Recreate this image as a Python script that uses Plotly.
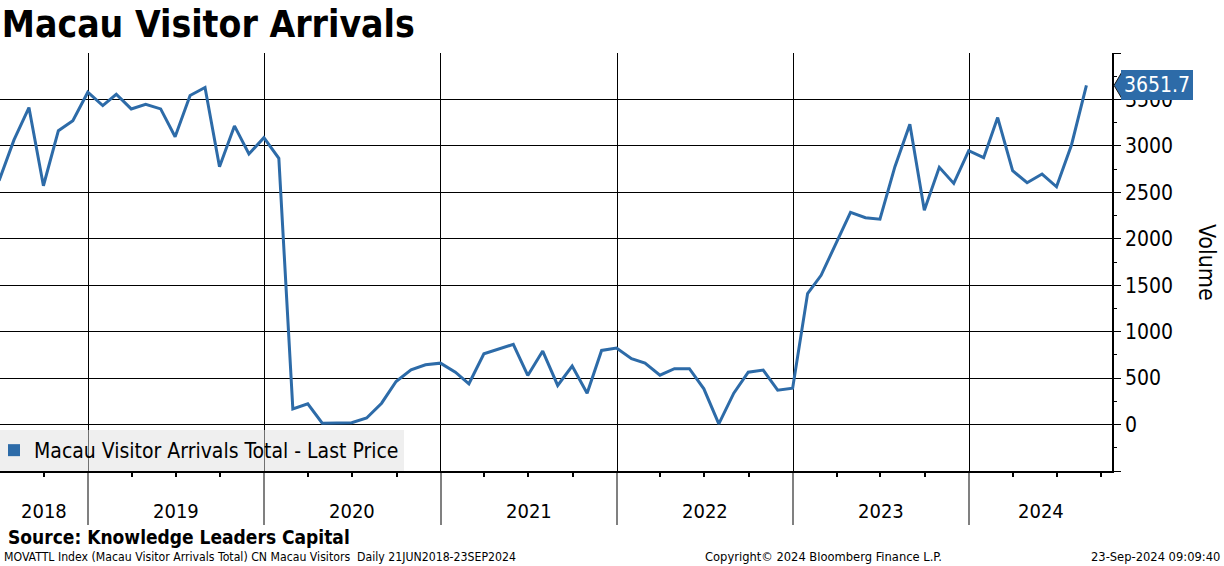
import pandas as pd
import plotly.graph_objects as go

# ---- data (monthly, thousands of visitors) ----
values_2018 = [2625, 3064, 3413, 2571, 3164, 3272, 3578]            # Jun-Dec 2018
values_2019 = [3434, 3556, 3398, 3448, 3398, 3099, 3542, 3628, 2776, 3215, 2913, 3089]
values_2020 = [2866, 169, 223, 14, 14, 20, 70, 230, 464, 590, 644, 661]
values_2021 = [564, 439, 762, 813, 863, 529, 791, 421, 629, 338, 798, 823]
values_2022 = [709, 661, 532, 601, 601, 385, 7, 338, 564, 586, 370, 392]
values_2023 = [1410, 1607, 1960, 2284, 2226, 2211, 2776, 3233, 2308, 2769, 2596, 2948]
values_2024 = [2873, 3305, 2733, 2603, 2697, 2560, 3010, 3651.7]     # Jan-Aug 2024
values = values_2018 + values_2019 + values_2020 + values_2021 + values_2022 + values_2023 + values_2024
first_month = "2018-07-01"   # month-end dates: first is 30-Jun-2018
year_labels = ["2018", "2019", "2020", "2021", "2022", "2023", "2024"]
year_label_dates = ["2018-10-01", "2019-07-02", "2020-07-01", "2021-07-02", "2022-07-02", "2023-07-02", "2024-05-28"]
year_starts = ["2019-01-01", "2020-01-01", "2021-01-01", "2022-01-01", "2023-01-01", "2024-01-01"]
y_ticks = [-500, 0, 500, 1000, 1500, 2000, 2500, 3000, 3500, 4000]
y_ticktext = ["", "0", "500", "1000", "1500", "2000", "2500", "3000", "3500", ""]

dates = pd.date_range(first_month, periods=len(values), freq="MS") - pd.Timedelta(days=1)

BLUE = "#2d6ba8"
FONT = "DejaVu Sans Condensed, DejaVu Sans, sans-serif"

fig = go.Figure()
fig.add_trace(go.Scatter(x=dates, y=values, mode="lines",
                         line=dict(color=BLUE, width=3), showlegend=False))
fig.add_trace(go.Scatter(x=[None], y=[None], mode="markers",
                         marker=dict(symbol="square", size=12, color=BLUE),
                         name="Macau Visitor Arrivals Total - Last Price"))

fig.update_layout(
    width=1224, height=566,
    margin=dict(l=0, r=112, t=53, b=95, autoexpand=False),
    paper_bgcolor="white", plot_bgcolor="white",
    font=dict(family=FONT, color="black"),
    title=dict(text="<b>Macau Visitor Arrivals</b>", x=0.0015, xanchor="left",
               y=1 - 24 / 566, yanchor="middle", yref="container",
               font=dict(size=37, family=FONT, color="black")),
    xaxis=dict(type="date", range=["2018-07-02", "2024-10-23"],
               tickmode="array", tickvals=year_starts, showticklabels=False,
               ticks="outside", ticklen=52, tickcolor="#808080", tickwidth=1.5,
               showgrid=True, gridcolor="black", gridwidth=1.3,
               showline=True, linecolor="black", linewidth=2,
               minor=dict(tickmode="linear", tick0="2018-01-01", dtick="M3",
                          ticks="outside", ticklen=4, tickcolor="black", showgrid=False),
               zeroline=False, fixedrange=True),
    yaxis=dict(side="right", range=[-500, 4000], tickmode="array",
               tickvals=y_ticks, ticktext=y_ticktext,
               ticks="outside", ticklen=7, tickcolor="black",
               tickfont=dict(size=21, family=FONT),
               showgrid=True, gridcolor="black", gridwidth=1.3,
               showline=True, linecolor="black", linewidth=1.5,
               minor=dict(tickmode="linear", tick0=-250, dtick=500, ticks="outside",
                          ticklen=3, tickcolor="black", showgrid=False),
               zeroline=False, fixedrange=True),
    legend=dict(x=-0.0054, y=0, xanchor="left", yanchor="bottom",
                bgcolor="rgba(224,224,224,0.5)", borderwidth=0,
                font=dict(size=21, family=FONT), itemwidth=30),
)

# last-value pointer notch (pixel-sized shape anchored at the axis and the last value)
fig.add_shape(type="path", xref="paper", yref="y", xsizemode="pixel", ysizemode="pixel",
              xanchor=1, yanchor=values[-1],
              path="M 2 0 L 10 -13.5 L 10 13.5 Z",
              fillcolor=BLUE, line=dict(color="#1a1a1a", width=1), layer="above")

for lab, d in zip(year_labels, year_label_dates):
    fig.add_annotation(x=d, y=-0.096, xref="x", yref="paper", text=lab,
                       showarrow=False, font=dict(size=20, family=FONT),
                       xanchor="center", yanchor="middle")

fig.add_annotation(x=1, xref="paper", xanchor="left", xshift=9, y=values[-1], yref="y",
                   text="%.1f" % values[-1], showarrow=False, yanchor="middle",
                   bgcolor=BLUE, bordercolor=BLUE, borderwidth=1, borderpad=2,
                   font=dict(size=21, color="white", family=FONT))
fig.add_annotation(x=1.0855, y=0.5, xref="paper", yref="paper", text="Volume",
                   textangle=90, showarrow=False, xanchor="center", yanchor="middle",
                   font=dict(size=23, family=FONT))
fig.add_annotation(x=0.005, y=-0.158, xref="paper", yref="paper", xanchor="left",
                   yanchor="middle",
                   text="<b>Source: Knowledge Leaders Capital</b>", showarrow=False,
                   font=dict(size=19, family=FONT))
fig.add_annotation(x=0.002, y=-0.2057, xref="paper", yref="paper", xanchor="left",
                   yanchor="middle",
                   text="MOVATTL Index (Macau Visitor Arrivals Total) CN Macau Visitors  Daily 21JUN2018-23SEP2024",
                   showarrow=False, font=dict(size=12.2, family=FONT))
fig.add_annotation(x=0.741, y=-0.2057, xref="paper", yref="paper", xanchor="center",
                   yanchor="middle",
                   text="Copyright© 2024 Bloomberg Finance L.P.",
                   showarrow=False, font=dict(size=12.8, family=FONT))
fig.add_annotation(x=1.099, y=-0.2057, xref="paper", yref="paper", xanchor="right",
                   yanchor="middle",
                   text="23-Sep-2024 09:09:40",
                   showarrow=False, font=dict(size=12.8, family=FONT))

fig.write_html("out.html", config={"displayModeBar": False},
               post_script="document.body.style.margin='0px';")
